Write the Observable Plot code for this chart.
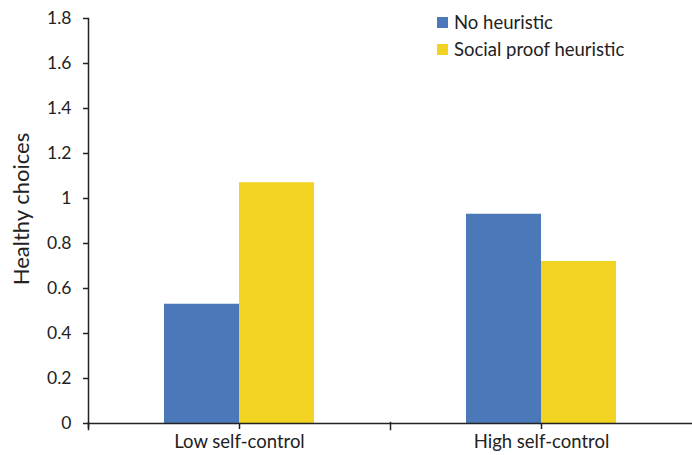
<!DOCTYPE html>
<html>
<head>
<meta charset="utf-8">
<script src="https://cdn.jsdelivr.net/npm/d3@7"></script>
<script src="https://cdn.jsdelivr.net/npm/@observablehq/plot@0.6"></script>
<style>
  html, body { margin: 0; padding: 0; background: #fff; }
  #wrap { position: relative; width: 692px; height: 455px; font-family: Lato, "Open Sans", sans-serif; }
  #legend { position: absolute; left: 437px; top: 9px; }
</style>
</head>
<body>
<div id="wrap"></div>
<script>
const groups = ["Low self-control", "High self-control"];
const series = ["No heuristic", "Social proof heuristic"];
const noHeuristic = [0.53, 0.93];
const socialProof = [1.07, 0.72];
const yTicks = [0, 0.2, 0.4, 0.6, 0.8, 1, 1.2, 1.4, 1.6, 1.8];
const colors = ["#4a78b8", "#f3d321"];

const data = groups.flatMap((g, i) => [
  {group: g, series: series[0], value: noHeuristic[i]},
  {group: g, series: series[1], value: socialProof[i]}
]);

const axisColor = "#222";

const chart = Plot.plot({
  width: 692,
  height: 455,
  marginLeft: 87,
  marginRight: 0,
  marginTop: 18,
  marginBottom: 32,
  style: {fontFamily: "Lato, 'Open Sans', sans-serif", color: axisColor, background: "#fff"},
  fx: {domain: groups, padding: 0, label: null, axis: null},
  x: {domain: series, paddingInner: 0, paddingOuter: 1, axis: null},
  y: {domain: [0, 1.8], ticks: yTicks},
  color: {domain: series, range: colors},
  marks: [
    Plot.barY(data, {fx: "group", x: "series", y: "value", fill: "series"}),
    Plot.ruleY([0], {stroke: axisColor, strokeWidth: 1.5}),
    Plot.frame({anchor: "left", facetAnchor: "left", stroke: axisColor, strokeWidth: 1.5, insetBottom: -4}),
    Plot.frame({anchor: "left", stroke: axisColor, strokeWidth: 1.5, insetTop: 404, insetBottom: -6}),
    Plot.axisY({
      ticks: yTicks,
      tickSize: 5,
      tickPadding: 12,
      fontSize: 17.5,
      stroke: axisColor,
      strokeWidth: 1.5,
      label: "Healthy choices",
      labelAnchor: "center",
      labelArrow: "none",
      labelOffset: 75,
      tickFormat: d => String(d)
    }),
    Plot.axisFx({
      anchor: "bottom",
      tickSize: 6,
      tickPadding: 5,
      fontSize: 18.5,
      stroke: axisColor,
      strokeWidth: 1.5,
      label: null
    })
  ]
});

const wrap = document.getElementById("wrap");
wrap.appendChild(chart);

chart.querySelectorAll("text").forEach(t => {
  if (t.textContent === "Healthy choices") {
    t.setAttribute("font-size", "22");
    const tr = t.getAttribute("transform") || "";
    t.setAttribute("transform", tr + " translate(12,0)");
  }
});

const legend = Plot.legend({
  color: {domain: series, range: colors},
  columns: 1,
  swatchSize: 11,
  swatchWidth: 11,
  swatchHeight: 11,
  style: {fontFamily: "Lato, 'Open Sans', sans-serif", fontSize: "18px", color: "#222"}
});
const lg = document.createElement("div");
lg.id = "legend";
lg.appendChild(legend);
wrap.appendChild(lg);
lg.querySelectorAll("svg").forEach(s => {
  const p = s.parentElement;
  p.style.height = "26px";
  p.style.display = "flex";
  p.style.alignItems = "center";
  p.style.fontSize = "18.5px";
  s.style.marginRight = "6px";
});
</script>
</body>
</html>
